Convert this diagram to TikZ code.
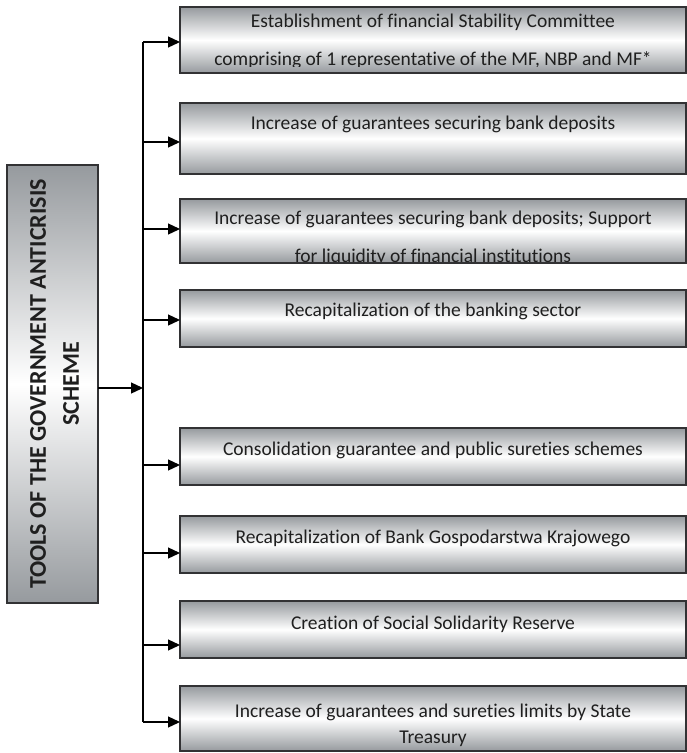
\documentclass[tikz,border=0pt]{standalone}
\usepackage{fontspec}
\setmainfont{Carlito}[Ligatures=NoCommon]
\usetikzlibrary{arrows.meta}
\definecolor{boxgrey}{RGB}{150,154,158}
\definecolor{edgegrey}{RGB}{50,50,52}

\begin{document}
\begin{tikzpicture}[x=1pt,y=-1pt,
    box/.style={draw=edgegrey, line width=1.5pt, top color=boxgrey, bottom color=boxgrey, middle color=white,
                minimum width=506pt, inner sep=0pt, outer sep=0pt},
    boxtext/.style={font=\fontsize{19.5}{20}\selectfont, text=black!88, anchor=base, inner sep=0pt},
    arr/.style={line width=1.3pt, -{Triangle[length=12pt,width=11pt]}}]
  \useasboundingbox (0,0) rectangle (687,753);
  % scheme box on the left
  \node[box, minimum width=91pt, minimum height=438pt] (lead) at (52.5,384) {};
  \node[rotate=90, align=center, text=black!88, font=\bfseries\fontsize{24}{33}\selectfont] (leadtxt) at ([xshift=2pt]lead.center)
    {TOOLS OF THE GOVERNMENT ANTICRISIS\\SCHEME};
  % tools
  \node[box, minimum height=66pt] (b1) at (433,40) {};
  \node[box, minimum height=71pt] (b2) at (433,138.5) {};
  \node[box, minimum height=64pt] (b3) at (433,231) {};
  \node[box, minimum height=57pt] (b4) at (433,318.5) {};
  \node[box, minimum height=57pt] (b5) at (433,456.5) {};
  \node[box, minimum height=57pt] (b6) at (433,544.5) {};
  \node[box, minimum height=57pt] (b7) at (433,629.5) {};
  \node[box, minimum height=65pt] (b8) at (433,718.5) {};
  % texts
  \node[boxtext] (t1) at ([yshift=-20pt]b1.north) {Establishment of financial Stability Committee};
  \begin{scope}
    \clip (b1.north west) rectangle ([yshift=7pt]b1.south east);
    \node[boxtext] (t1b) at ([yshift=-58pt]b1.north) {comprising of 1 representative of the MF, NBP and MF*};
  \end{scope}
  \node[boxtext] (t2) at ([yshift=-26.5pt]b2.north) {Increase of guarantees securing bank deposits};
  \node[boxtext] (t3) at ([yshift=-25pt]b3.north) {Increase of guarantees securing bank deposits; Support};
  \begin{scope}
    \clip (b3.north west) rectangle ([yshift=2pt]b3.south east);
    \node[boxtext] (t3b) at ([yshift=-63pt]b3.north) {for liquidity of financial institutions};
  \end{scope}
  \node[boxtext] (t4) at ([yshift=-26pt]b4.north) {Recapitalization of the banking sector};
  \node[boxtext] (t5) at ([yshift=-27pt]b5.north) {Consolidation guarantee and public sureties schemes};
  \node[boxtext] (t6) at ([yshift=-27pt]b6.north) {Recapitalization of Bank Gospodarstwa Krajowego};
  \node[boxtext] (t7) at ([yshift=-28pt]b7.north) {Creation of Social Solidarity Reserve};
  \node[boxtext] (t8) at ([yshift=-31pt]b8.north) {Increase of guarantees and sureties limits by State};
  \node[boxtext] (t8b) at ([yshift=-57pt]b8.north) {Treasury};
  % connectors
  \coordinate (trunk) at (143,0);
  \draw[line width=1.3pt] ([yshift=-2pt]b1.west -| trunk) -- ([yshift=-3.5pt]b8.west -| trunk);
  \draw[arr] ([yshift=-4pt]lead.east) -- ([yshift=-4pt]lead.east -| trunk);
  \foreach \b/\s in {b1/-2,b2/-3.5,b3/2,b4/-1.5,b5/-8.5,b6/-8.5,b7/-15.5,b8/-3.5}
    \draw[arr] ([yshift=\s pt]\b.west -| trunk) -- ([yshift=\s pt]\b.west);
\end{tikzpicture}
\end{document}
